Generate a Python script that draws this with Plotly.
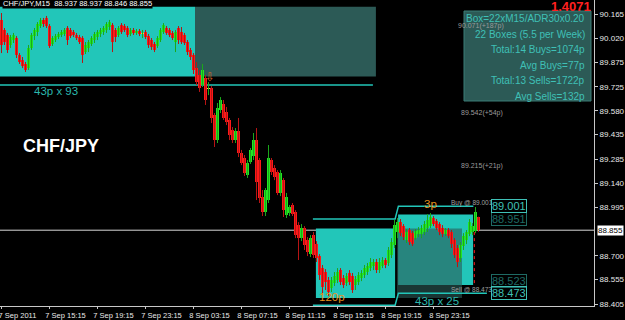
import plotly.graph_objects as go

# ---------------- data (CHF/JPY, M15) ----------------
opens = [
    90.131, 90.070, 90.040, 89.979, 90.009, 90.021, 89.918, 89.888, 89.864, 89.839,
    89.961, 90.033, 90.058, 90.094, 90.131, 90.143, 90.094, 89.985, 90.009, 90.027,
    90.040, 90.046, 90.082, 90.070, 90.058, 90.040, 90.027, 90.021, 89.936, 89.961,
    89.985, 90.009, 90.027, 90.046, 90.058, 90.070, 90.088, 90.100, 90.070, 90.040,
    90.100, 90.094, 90.082, 90.046, 90.070, 90.052, 90.064, 90.046, 90.058, 90.033,
    90.009, 89.985, 89.973, 90.009, 90.058, 90.082, 90.070, 90.052, 89.997, 90.082,
    90.058, 90.040, 89.997, 89.949, 89.918, 89.839, 89.797, 89.736, 89.779, 89.712,
    89.718, 89.554, 89.402, 89.584, 89.621, 89.572, 89.524, 89.463, 89.402, 89.457,
    89.323, 89.293, 89.190, 89.269, 89.305, 89.402, 89.281, 89.056, 88.965, 89.038,
    89.281, 89.232, 89.208, 89.081, 89.159, 88.947, 88.959, 89.008, 88.965, 88.886,
    88.807, 88.868, 88.795, 88.710, 88.825, 88.771, 88.698, 88.625, 88.601, 88.553,
    88.504, 88.534, 88.553, 88.613, 88.565, 88.534, 88.595, 88.577, 88.522, 88.540,
    88.565, 88.583, 88.601, 88.625, 88.638, 88.662, 88.613, 88.638, 88.674, 88.656,
    88.704, 88.765, 88.844, 88.904, 88.880, 88.795, 88.856, 88.837, 88.807, 88.832,
    88.832, 88.844, 88.868, 88.880, 88.929, 88.911, 88.892, 88.868, 88.832, 88.856,
    88.844, 88.795, 88.747, 88.686, 88.759, 88.795, 88.832, 88.844, 88.850, 88.937,
]
highs = [
    90.173, 90.082, 90.052, 90.040, 90.052, 90.033, 89.930, 89.906, 89.876, 89.979,
    90.052, 90.082, 90.118, 90.143, 90.143, 90.155, 90.106, 90.033, 90.046, 90.058,
    90.070, 90.082, 90.094, 90.082, 90.070, 90.052, 90.040, 90.033, 89.997, 90.009,
    90.033, 90.058, 90.070, 90.082, 90.094, 90.118, 90.131, 90.112, 90.082, 90.094,
    90.112, 90.106, 90.094, 90.082, 90.082, 90.076, 90.076, 90.070, 90.070, 90.046,
    90.021, 89.997, 90.033, 90.082, 90.112, 90.094, 90.082, 90.064, 90.070, 90.094,
    90.088, 90.052, 90.009, 89.961, 89.930, 89.876, 89.827, 89.864, 89.797, 89.754,
    89.730, 89.566, 89.627, 89.663, 89.645, 89.603, 89.536, 89.481, 89.475, 89.536,
    89.342, 89.311, 89.281, 89.354, 89.445, 89.475, 89.293, 89.099, 89.111, 89.372,
    89.293, 89.250, 89.220, 89.220, 89.172, 89.081, 89.008, 89.020, 88.977, 88.904,
    88.892, 88.880, 88.813, 88.825, 88.844, 88.789, 88.710, 88.644, 88.619, 88.571,
    88.571, 88.601, 88.625, 88.625, 88.583, 88.595, 88.613, 88.595, 88.577, 88.601,
    88.613, 88.644, 88.656, 88.686, 88.680, 88.680, 88.686, 88.692, 88.686, 88.753,
    88.807, 88.917, 88.929, 88.923, 88.892, 88.862, 88.868, 88.850, 88.862, 88.874,
    88.886, 88.911, 88.953, 88.959, 88.941, 88.923, 88.904, 88.886, 88.868, 88.868,
    88.856, 88.807, 88.765, 88.783, 88.837, 88.856, 88.923, 88.898, 88.996, 88.937,
]
lows = [
    89.930, 89.979, 89.930, 89.961, 89.991, 89.900, 89.864, 89.839, 89.815, 89.827,
    89.949, 90.009, 90.033, 90.082, 90.088, 90.082, 89.961, 89.973, 89.997, 90.015,
    90.027, 90.033, 89.979, 90.021, 90.027, 90.009, 89.985, 89.870, 89.924, 89.936,
    89.973, 89.991, 90.009, 90.027, 90.040, 90.052, 90.070, 89.936, 89.997, 90.027,
    90.046, 90.058, 90.027, 90.033, 90.040, 90.040, 90.033, 90.021, 90.015, 89.961,
    89.949, 89.936, 89.961, 89.997, 90.046, 90.040, 90.027, 90.009, 89.936, 89.985,
    89.985, 89.979, 89.918, 89.888, 89.803, 89.736, 89.694, 89.724, 89.615, 89.675,
    89.505, 89.360, 89.384, 89.566, 89.524, 89.493, 89.402, 89.384, 89.384, 89.299,
    89.250, 89.184, 89.172, 89.257, 89.281, 89.038, 89.020, 88.941, 88.941, 89.020,
    89.190, 89.159, 89.068, 89.062, 88.935, 88.929, 88.941, 88.941, 88.807, 88.674,
    88.789, 88.735, 88.698, 88.692, 88.686, 88.662, 88.553, 88.461, 88.492, 88.455,
    88.480, 88.516, 88.534, 88.522, 88.504, 88.516, 88.522, 88.474, 88.492, 88.522,
    88.546, 88.565, 88.583, 88.607, 88.613, 88.595, 88.595, 88.625, 88.625, 88.638,
    88.686, 88.747, 88.807, 88.819, 88.795, 88.777, 88.765, 88.759, 88.795, 88.813,
    88.807, 88.825, 88.844, 88.868, 88.880, 88.856, 88.825, 88.813, 88.819, 88.807,
    88.747, 88.686, 88.631, 88.662, 88.735, 88.771, 88.819, 88.825, 88.837, 88.846,
]
closes = [
    89.979, 89.997, 89.949, 90.027, 90.040, 89.918, 89.876, 89.851, 89.827, 89.961,
    90.040, 90.070, 90.106, 90.131, 90.106, 90.094, 89.973, 90.021, 90.033, 90.046,
    90.058, 90.070, 90.009, 90.033, 90.040, 90.021, 89.997, 89.918, 89.979, 89.997,
    90.021, 90.046, 90.058, 90.070, 90.082, 90.106, 90.118, 89.997, 90.027, 90.082,
    90.058, 90.070, 90.040, 90.070, 90.052, 90.064, 90.046, 90.046, 90.027, 89.979,
    89.967, 89.949, 90.021, 90.070, 90.100, 90.052, 90.040, 90.021, 90.058, 90.009,
    89.997, 89.991, 89.936, 89.906, 89.827, 89.754, 89.718, 89.827, 89.645, 89.712,
    89.536, 89.402, 89.596, 89.645, 89.536, 89.511, 89.433, 89.402, 89.457, 89.323,
    89.263, 89.202, 89.263, 89.342, 89.402, 89.147, 89.050, 88.965, 89.099, 89.293,
    89.208, 89.178, 89.081, 89.202, 88.977, 89.056, 88.996, 88.953, 88.825, 88.807,
    88.868, 88.765, 88.722, 88.807, 88.704, 88.686, 88.583, 88.510, 88.540, 88.480,
    88.553, 88.577, 88.601, 88.540, 88.522, 88.577, 88.540, 88.492, 88.559, 88.583,
    88.595, 88.625, 88.638, 88.662, 88.662, 88.613, 88.662, 88.674, 88.644, 88.735,
    88.783, 88.886, 88.904, 88.837, 88.813, 88.844, 88.783, 88.771, 88.850, 88.856,
    88.868, 88.892, 88.917, 88.935, 88.892, 88.868, 88.844, 88.832, 88.856, 88.819,
    88.771, 88.704, 88.662, 88.765, 88.819, 88.844, 88.904, 88.880, 88.965, 88.855,
]

x_tick_index = [0, 16, 32, 48, 64, 80, 96, 112, 128, 144]
x_tick_labels = ["7 Sep 2011", "7 Sep 15:15", "7 Sep 19:15", "7 Sep 23:15", "8 Sep 03:15",
                 "8 Sep 07:15", "8 Sep 11:15", "8 Sep 15:15", "8 Sep 19:15", "8 Sep 23:15"]
y_tick_values = [90.165, 90.020, 89.875, 89.725, 89.580, 89.435, 89.285, 89.140,
                 88.995, 88.700, 88.555, 88.405]
y_tick_labels = ["90.165", "90.020", "89.875", "89.725", "89.580", "89.435", "89.285",
                 "89.140", "88.995", "88.700", "88.555", "88.405"]
bid_price = 88.855

info_lines = ["Box=22xM15/ADR30x0.20", "22 Boxes (5.5 per Week)", "Total:14 Buys=1074p",
              "Avg Buys=77p", "Total:13 Sells=1722p", "Avg Sells=132p"]

# box levels (prices)
box1 = dict(lo=89.787, hi=90.211)
box2 = dict(lo=88.443, hi=88.866)
box3 = dict(lo=88.523, hi=88.951)

# ---------------- styling ----------------
PLOT_W, PLOT_H = 594, 306
FONT = "Liberation Sans, Arial, sans-serif"
CYAN = "#22c6b9"
SLATE = "#2c5a56"
TXT_CYAN = "#3fc0b6"
UP, DN, DOJI = "#22e622", "#ff1818", "#e8e040"
UPW, DNW = "#1aa81a", "#b81414"

def px(x):
    return x / PLOT_W

def py(y):
    return 1 - y / PLOT_H

idx = list(range(len(closes)))
colors, bases, heights = [], [], []
for o, c in zip(opens, closes):
    colors.append(UP if c > o else (DN if c < o else DOJI))
    bases.append(min(o, c))
    heights.append(max(abs(c - o), 0.003))

wx_up, wy_up, wx_dn, wy_dn = [], [], [], []
for i, (o, h, l, c) in enumerate(zip(opens, highs, lows, closes)):
    if c >= o:
        wx_up += [i, i, None]; wy_up += [l, h, None]
    else:
        wx_dn += [i, i, None]; wy_dn += [l, h, None]

fig = go.Figure()
fig.add_trace(go.Scatter(x=wx_up, y=wy_up, mode="lines", line=dict(color=UPW, width=1),
                         hoverinfo="skip", showlegend=False))
fig.add_trace(go.Scatter(x=wx_dn, y=wy_dn, mode="lines", line=dict(color=DNW, width=1),
                         hoverinfo="skip", showlegend=False))
fig.add_trace(go.Bar(x=idx, y=heights, base=bases, width=0.72, marker=dict(color=colors, line=dict(width=0)),
                     showlegend=False, hoverinfo="skip"))

shapes = []
def rect(x0, x1, y0, y1, color, opacity=1.0, layer="below", xref="x", yref="y", line=None):
    shapes.append(dict(type="rect", xref=xref, yref=yref, x0=x0, x1=x1, y0=y0, y1=y1,
                       fillcolor=color, opacity=opacity, layer=layer,
                       line=line or dict(width=0)))

rect(-0.5, 64.5, box1["lo"], box1["hi"], CYAN)
rect(64.5, 124.8, box1["lo"], box1["hi"], SLATE)
rect(104.8, 131.2, box2["lo"], box2["hi"], CYAN)
rect(132.2, 157.2, box3["lo"], box3["hi"], CYAN)
rect(131.8, 153.5, box2["lo"], box2["hi"], SLATE, opacity=0.6)

shapes.append(dict(type="line", xref="x", yref="y", x0=-0.5, x1=123.8, y0=89.736, y1=89.736,
                   line=dict(color=CYAN, width=1.5), layer="below"))
shapes.append(dict(type="path", xref="x", yref="y", layer="below",
                   path="M 103.8 88.923 L 131.2 88.923 L 132.3 89.001 L 157.3 89.001",
                   line=dict(color=CYAN, width=1.5)))
shapes.append(dict(type="path", xref="x", yref="y", layer="below",
                   path="M 103.8 88.400 L 131.2 88.400 L 132.3 88.473 L 161.8 88.473",
                   line=dict(color=CYAN, width=1.5)))
shapes.append(dict(type="line", xref="x", yref="y", x0=157.6, x1=157.6, y0=88.534, y1=88.844,
                   line=dict(color="#ff2020", width=1, dash="dot"), layer="above"))
shapes.append(dict(type="line", xref="paper", yref="y", x0=0, x1=1, y0=bid_price, y1=bid_price,
                   line=dict(color="#d8d8d8", width=1), layer="below"))
# info panel
rect(px(464), px(591), py(101), py(11), SLATE, layer="above", xref="paper", yref="paper",
     line=dict(color="#3b7d77", width=1))

ann = []
def text(x, y, t, size, color, xanchor="center", xref="x", yref="y", bold=False, family=FONT, **kw):
    d = dict(x=x, y=y, xref=xref, yref=yref, text=("<b>%s</b>" % t) if bold else t,
             showarrow=False, xanchor=xanchor, yanchor="middle",
             font=dict(family=family, size=size, color=color))
    d.update(kw)
    ann.append(d)

text(px(2), py(3.5), "CHF/JPY,M15  88.937 88.937 88.846 88.855", 7.5, "#ffffff", xanchor="left",
     xref="paper", yref="paper", bgcolor="#000000", borderpad=0)
text(px(21), py(145.5), "CHF/JPY", 18, "#ffffff", xanchor="left", xref="paper", yref="paper", bold=True)
text(px(571), py(6.5), "1.4071", 13, "#ff2020", xref="paper", yref="paper", bold=True)
text(px(456), py(26), "90.071(+187p)", 7, "#9a9a9a", xanchor="left", xref="paper", yref="paper")
info_y = [18.8, 34.3, 50, 65.5, 81, 96.5]
for t, yy in zip(info_lines, info_y):
    text(px(587), py(yy), t, 10, TXT_CYAN, xanchor="right", xref="paper", yref="paper")
text(px(459), py(113), "89.542(+54p)", 7, "#9a9a9a", xanchor="left", xref="paper", yref="paper")
text(px(459), py(166), "89.215(+21p)", 7, "#9a9a9a", xanchor="left", xref="paper", yref="paper")

text(18, 89.697, "43p x 93", 11.5, "#2bb8ae")
text(145, 88.424, "43p x 25", 11.5, "#2bb8ae")
text(110, 88.447, "120p", 11.5, "#e8921e")
text(143, 89.011, "3p", 11.5, "#e8921e")
text(69.5, 89.785, "⇩", 12, "#d8642a", family="DejaVu Sans")

text(149.3, 89.022, "Buy @ 89.001", 6.5, "#a0a0a0", xanchor="left")
text(149.3, 88.497, "Sell @ 88.473", 6.5, "#a0a0a0", xanchor="left")
text(169.0, 88.922, "88.951", 11, "#1f6a64", bordercolor="#1f6a64", borderwidth=1, borderpad=0)
text(169.0, 89.001, "89.001", 11, TXT_CYAN, bordercolor=TXT_CYAN, borderwidth=1, borderpad=0)
text(169.0, 88.549, "88.523", 11, "#1f6a64", bordercolor="#1f6a64", borderwidth=1, borderpad=0)
text(169.0, 88.471, "88.473", 11, TXT_CYAN, bordercolor=TXT_CYAN, borderwidth=1, borderpad=0)

ann.append(dict(x=1, xref="paper", y=bid_price, yref="y", text="88.855", showarrow=False,
                xanchor="left", xshift=3, yanchor="middle", bgcolor="#ffffff", borderpad=0,
                font=dict(family=FONT, size=8, color="#000000")))

fig.update_layout(
    width=625, height=320,
    margin=dict(l=0, r=625 - PLOT_W, t=0, b=320 - PLOT_H),
    paper_bgcolor="#000000", plot_bgcolor="#000000",
    showlegend=False, bargap=0,
    shapes=shapes, annotations=ann,
    xaxis=dict(range=[-0.5, PLOT_W / 3 - 0.5], tickmode="array", tickvals=x_tick_index,
               ticktext=x_tick_labels, ticklabelshift=16, ticklabeloverflow="allow",
               ticks="outside", ticklen=2,
               tickcolor="#c8c8c8", showgrid=False, zeroline=False, showline=True,
               linecolor="#c8c8c8", linewidth=1, automargin=False, fixedrange=True,
               tickfont=dict(family=FONT, size=7.5, color="#e8e8e8")),
    yaxis=dict(range=[88.395, 90.252], side="right", tickmode="array", tickvals=y_tick_values,
               ticktext=y_tick_labels, ticks="outside", ticklen=3, tickcolor="#c8c8c8",
               ticklabeloverflow="allow",
               showgrid=False, zeroline=False, showline=True, linecolor="#c8c8c8", linewidth=1,
               automargin=False, fixedrange=True,
               tickfont=dict(family=FONT, size=8, color="#e8e8e8")),
)

fig.write_html("out.html")
